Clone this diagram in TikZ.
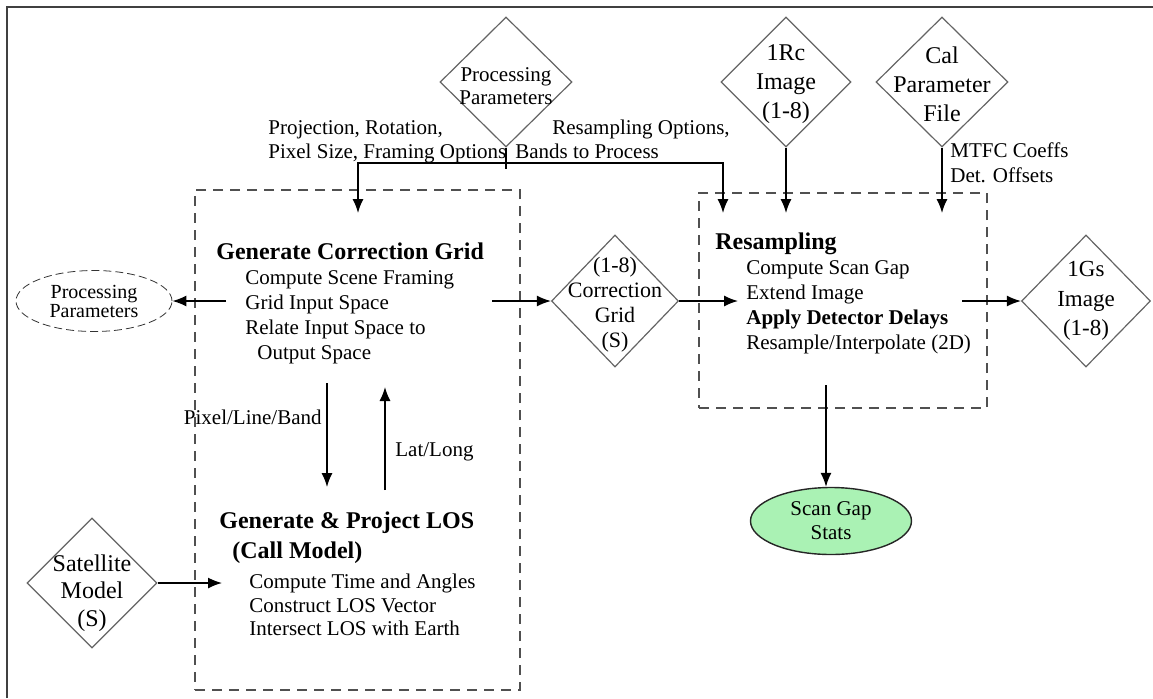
\documentclass[tikz,border=0pt]{standalone}
\usepackage{fontspec}
\setmainfont{Liberation Serif}
\usetikzlibrary{arrows.meta,shapes.geometric}
\definecolor{boxink}{RGB}{80,80,80}
\definecolor{diaink}{RGB}{100,100,100}
\definecolor{statfill}{RGB}{170,242,180}

\begin{document}
\begin{tikzpicture}[x=0.5pt, y=-0.5pt,
  txt/.style={align=left, inner sep=0pt, font=\fontsize{10.5}{12.5}\selectfont},
  head/.style={align=left, inner sep=0pt, font=\bfseries\fontsize{12}{15}\selectfont},
  dia/.style={diamond, draw=diaink, line width=0.6pt, inner sep=0pt, minimum width=65pt, minimum height=65pt},
  dtext/.style={align=center, inner sep=0pt, font=\fontsize{12}{14.5}\selectfont},
  dbox/.style={draw=boxink, line width=0.9pt, dash pattern=on 5pt off 3.5pt, inner sep=0pt},
  arr/.style={-{Latex[length=7pt,width=5.5pt]}, line width=0.7pt}]
  \useasboundingbox (0,0) rectangle (1153,698);
  \draw[line width=1pt, black!75] (7,698) -- (7,7) -- (1153,7);

  \node[dbox, minimum width=162.5pt, minimum height=250pt] (gridbox) at (357.5,440) {};
  \node[dbox, minimum width=144pt, minimum height=107.5pt] (resbox) at (843,300.5) {};

  \node[dia, minimum width=66pt, label={[dtext, font=\fontsize{10.5}{11.5}\selectfont, yshift=-2pt]center:{Processing\\Parameters}}] (ppdia) at (506,82) {};
  \node[dia, label={[dtext, yshift=-1pt]center:{1Rc\\Image\\(1-8)}}] (rcdia) at (786,82) {};
  \node[dia, minimum width=66pt, label={[dtext, yshift=-1pt]center:{Cal\\Parameter\\File}}] (caldia) at (942,82) {};
  \node[dia, minimum width=63.5pt, minimum height=66pt, label={[dtext, font=\fontsize{11}{12.5}\selectfont, yshift=-2pt]center:{(1-8)\\Correction\\Grid\\(S)}}] (cgdia) at (615,301) {};
  \node[dia, minimum width=64.5pt, minimum height=66pt, label={[dtext, font=\fontsize{11.5}{14.75}\selectfont]center:{1Gs\\Image\\(1-8)}}] (gsdia) at (1086,301) {};
  \node[dia, label={[dtext, font=\fontsize{12}{13.75}\selectfont, yshift=-5pt]center:{Satellite\\Model\\(S)}}] (satdia) at (92,583) {};

  \node[ellipse, draw=black!80, dash pattern=on 4pt off 2pt, minimum width=78pt, minimum height=30.5pt, inner sep=0pt, align=center, font=\fontsize{10}{9.5}\selectfont] (ppell) at (94,301) {Processing\\Parameters};
  \node[ellipse, draw=black!85, fill=statfill, line width=0.7pt, minimum width=80.5pt, minimum height=33.5pt, inner sep=0pt, align=center, font=\fontsize{10.5}{12}\selectfont] (sgell) at (831,521) {Scan Gap\\Stats};

  \node[head, anchor=base west] (gcgtitle) at (216,259) {Generate Correction Grid};
  \node[txt, anchor=north west] (gcgsteps) at (245,270) {Compute Scene Framing\\Grid Input Space\\Relate Input Space to\\\hspace*{6pt}Output Space};
  \node[head, anchor=north west] (lostitle) at (219,511) {Generate \& Project LOS\\\hspace*{6.5pt}(Call Model)};
  \node[txt, anchor=north west, font=\fontsize{10.5}{11.75}\selectfont] (lossteps) at (249,574) {Compute Time and Angles\\Construct LOS Vector\\Intersect LOS with Earth};
  \node[head, anchor=base west] (restitle) at (715,249) {Resampling};
  \node[txt, anchor=north west] (ressteps) at (746,260) {Compute Scan Gap\\Extend Image\\\textbf{Apply Detector Delays}\\Resample/Interpolate (2D)};

  \node[txt, anchor=north west, font=\fontsize{10.5}{12}\selectfont] (projlabel) at (268,120) {Projection, Rotation,\\Pixel Size, Framing Options};
  \node[txt, anchor=north west, font=\fontsize{10.5}{12}\selectfont] (reslabel) at (515,120) {\hspace*{18.5pt}Resampling Options,\\Bands to Process};
  \node[txt, anchor=north west] (mtfclabel) at (950,142) {MTFC Coeffs\\Det. Offsets};
  \node[txt, anchor=base east] (pixlabel) at (322,424) {Pixel/Line/Band};
  \node[txt, anchor=base west] (latlabel) at (395,456) {Lat/Long};

  \coordinate (bus) at (506,163);
  \coordinate (gridin) at (358,213);
  \coordinate (resin) at (723,213);
  \coordinate (gridleft) at (226,301);
  \coordinate (gridright) at (492,301);
  \coordinate (resleft) at (738,301);
  \coordinate (resright) at (962,301);
  \coordinate (resdown) at (826,385);
  \coordinate (pixtop) at (327,383);
  \coordinate (pixbot) at (327,487);
  \coordinate (latbot) at (385,490);
  \coordinate (lattop) at (385,387);
  \coordinate (losin) at (222,583);

  \draw[line width=0.7pt] (ppdia.south) -- ++(0,21);
  \draw[arr] (bus) -| (gridin);
  \draw[arr] (bus) -| (resin);
  \draw[arr] (rcdia.south) -- (rcdia.south |- resin);
  \draw[arr] (caldia.south) -- (caldia.south |- resin);
  \draw[arr] (gridleft) -- (ppell.east);
  \draw[arr] (gridright) -- (cgdia.west);
  \draw[arr] (cgdia.east) -- (resleft);
  \draw[arr] (resright) -- (gsdia.west);
  \draw[arr] (resdown) -- (resdown |- sgell.north);
  \draw[arr] (pixtop) -- (pixbot);
  \draw[arr] (latbot) -- (lattop);
  \draw[arr] (satdia.east) -- (losin);
\end{tikzpicture}
\end{document}
